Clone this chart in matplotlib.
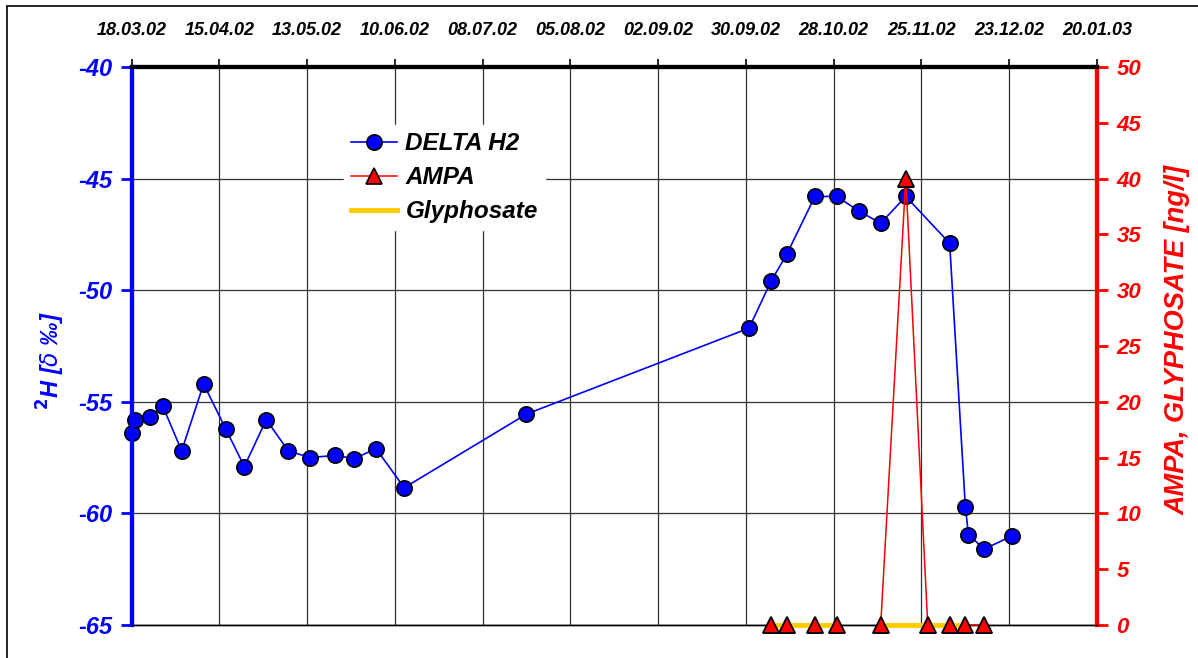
import numpy as np
import pandas as pd
import matplotlib
matplotlib.use("Agg")
from matplotlib import pyplot as plt
import matplotlib.dates as mdates
from matplotlib.patches import Rectangle

plt.rcParams['font.family'] = ['Liberation Sans', 'DejaVu Sans']
plt.rcParams['axes.unicode_minus'] = False

# deuterium series
delta_dates = ["18.03.02", "19.03.02", "24.03.02", "28.03.02", "03.04.02", "10.04.02",
               "17.04.02", "23.04.02", "30.04.02", "07.05.02", "14.05.02", "22.05.02",
               "28.05.02", "04.06.02", "13.06.02", "22.07.02", "01.10.02", "08.10.02",
               "13.10.02", "22.10.02", "29.10.02", "05.11.02", "12.11.02", "20.11.02",
               "04.12.02", "09.12.02", "10.12.02", "15.12.02", "24.12.02"]
delta_h2 = [-56.4, -55.8, -55.7, -55.2, -57.2, -54.2, -56.2, -57.9, -55.8, -57.2,
            -57.5, -57.4, -57.55, -57.1, -58.85, -55.55, -51.7, -49.6, -48.4, -45.8,
            -45.8, -46.45, -47.0, -45.8, -47.9, -59.7, -60.95, -61.6, -61.0]

# AMPA / glyphosate (05.11 not measured)
ampa_dates = ["08.10.02", "13.10.02", "22.10.02", "29.10.02", "05.11.02", "12.11.02",
              "20.11.02", "27.11.02", "04.12.02", "09.12.02", "15.12.02"]
ampa = [0, 0, 0, 0, np.nan, 0, 40, 0, 0, 0, 0]
gly_dates = ["08.10.02", "13.10.02", "22.10.02", "29.10.02", "05.11.02", "12.11.02",
             "20.11.02", "27.11.02", "04.12.02", "09.12.02"]
glyphosate = [0, 0, 0, 0, np.nan, 0, 0, 0, 0, 0]

x_start = "18.03.02"
x_end = "20.01.03"


def to_dt(lst):
    return pd.to_datetime(lst, format="%d.%m.%y")


fig = plt.figure(figsize=(11.98, 6.58), dpi=100)
ax = fig.add_axes([131.5 / 1198, 1 - 625 / 658, (1097 - 131.5) / 1198, (625 - 67) / 658])
ax2 = ax.twinx()

fnt = dict(fontweight='bold', fontstyle='italic')

l1, = ax.plot(to_dt(delta_dates), delta_h2, '-o', color='#0000ff', lw=1.2, ms=11,
              mfc='#0000ff', mec='black', mew=1.2, label='DELTA H2', clip_on=False, zorder=3)
l2, = ax2.plot(to_dt(ampa_dates), ampa, '-^', color='#ff0000', lw=1.1, ms=11,
               mfc='#ff0000', mec='black', mew=1.2, label='AMPA', clip_on=False, zorder=2.8)
l3, = ax2.plot(to_dt(gly_dates), glyphosate, '-', color='#ffcc00', lw=3.5, label='Glyphosate',
               clip_on=False, zorder=2.9)
# triangles again on top of the yellow line
ax2.plot(to_dt(ampa_dates), ampa, '^', ms=11, mfc='#ff0000', mec='black', mew=1.2,
         clip_on=False, zorder=3)

t0 = pd.to_datetime(x_start, format="%d.%m.%y")
t1 = pd.to_datetime(x_end, format="%d.%m.%y")
ax.set_xlim(t0, t1)
ticks = pd.date_range(t0, t1, freq='28D')
ax.set_xticks(ticks)
ax.xaxis.set_major_formatter(mdates.DateFormatter('%d.%m.%y'))
ax.xaxis.tick_top()
ax.tick_params(axis='x', direction='out', length=6, width=1.2, pad=14, labelsize=13)
for lab in ax.get_xticklabels():
    lab.set_fontweight('bold')
    lab.set_fontstyle('italic')

ax.set_ylim(-65, -40)
ax.set_yticks(np.arange(-65, -39, 5))
ax.tick_params(axis='y', colors='#0000ff', direction='out', length=8, width=2, pad=6, labelsize=17)
for lab in ax.get_yticklabels():
    lab.set_fontweight('bold')
    lab.set_fontstyle('italic')

ax2.set_ylim(0, 50)
ax2.set_yticks(np.arange(0, 51, 5))
ax2.tick_params(axis='y', colors='#ff0000', direction='out', length=8, width=2, pad=6, labelsize=16)
for lab in ax2.get_yticklabels():
    lab.set_fontweight('bold')
    lab.set_fontstyle('italic')

ax.grid(True, color='#333333', lw=0.9)
ax.set_axisbelow(True)

for a in (ax, ax2):
    a.spines['left'].set_color('#0000ff')
    a.spines['left'].set_linewidth(3)
    a.spines['right'].set_color('#ff0000')
    a.spines['right'].set_linewidth(3)
    a.spines['top'].set_color('black')
    a.spines['top'].set_linewidth(3)
    a.spines['bottom'].set_color('black')
    a.spines['bottom'].set_linewidth(1)

ax.set_ylabel(r'$^{\mathbf{2}}$H [$\delta$ ‰]', color='#0000ff', fontsize=17, **fnt)
ax.yaxis.set_label_coords(-0.067, 0.475)
ax2.set_ylabel('AMPA, GLYPHOSATE [ng/l]', color='#ff0000', fontsize=19.5, **fnt)
ax2.yaxis.set_label_coords(1.07, 0.51)

leg = ax2.legend(handles=[l1, l2, l3], loc='upper left', bbox_to_anchor=(0.207, 0.918),
                 frameon=True, fancybox=False, framealpha=1, edgecolor='white',
                 facecolor='white', handlelength=1.9, handletextpad=0.35, borderpad=0.3,
                 labelspacing=0.45,
                 prop={'size': 17.5, 'weight': 'bold', 'style': 'italic'})
leg.set_zorder(5)

fig.patches.append(Rectangle((7 / 1198, -0.1), 1.2, 1 - 6 / 658 + 0.1, transform=fig.transFigure,
                             fill=False, edgecolor='black', lw=1.2, clip_on=False))

fig.savefig('out.png', dpi=100)
